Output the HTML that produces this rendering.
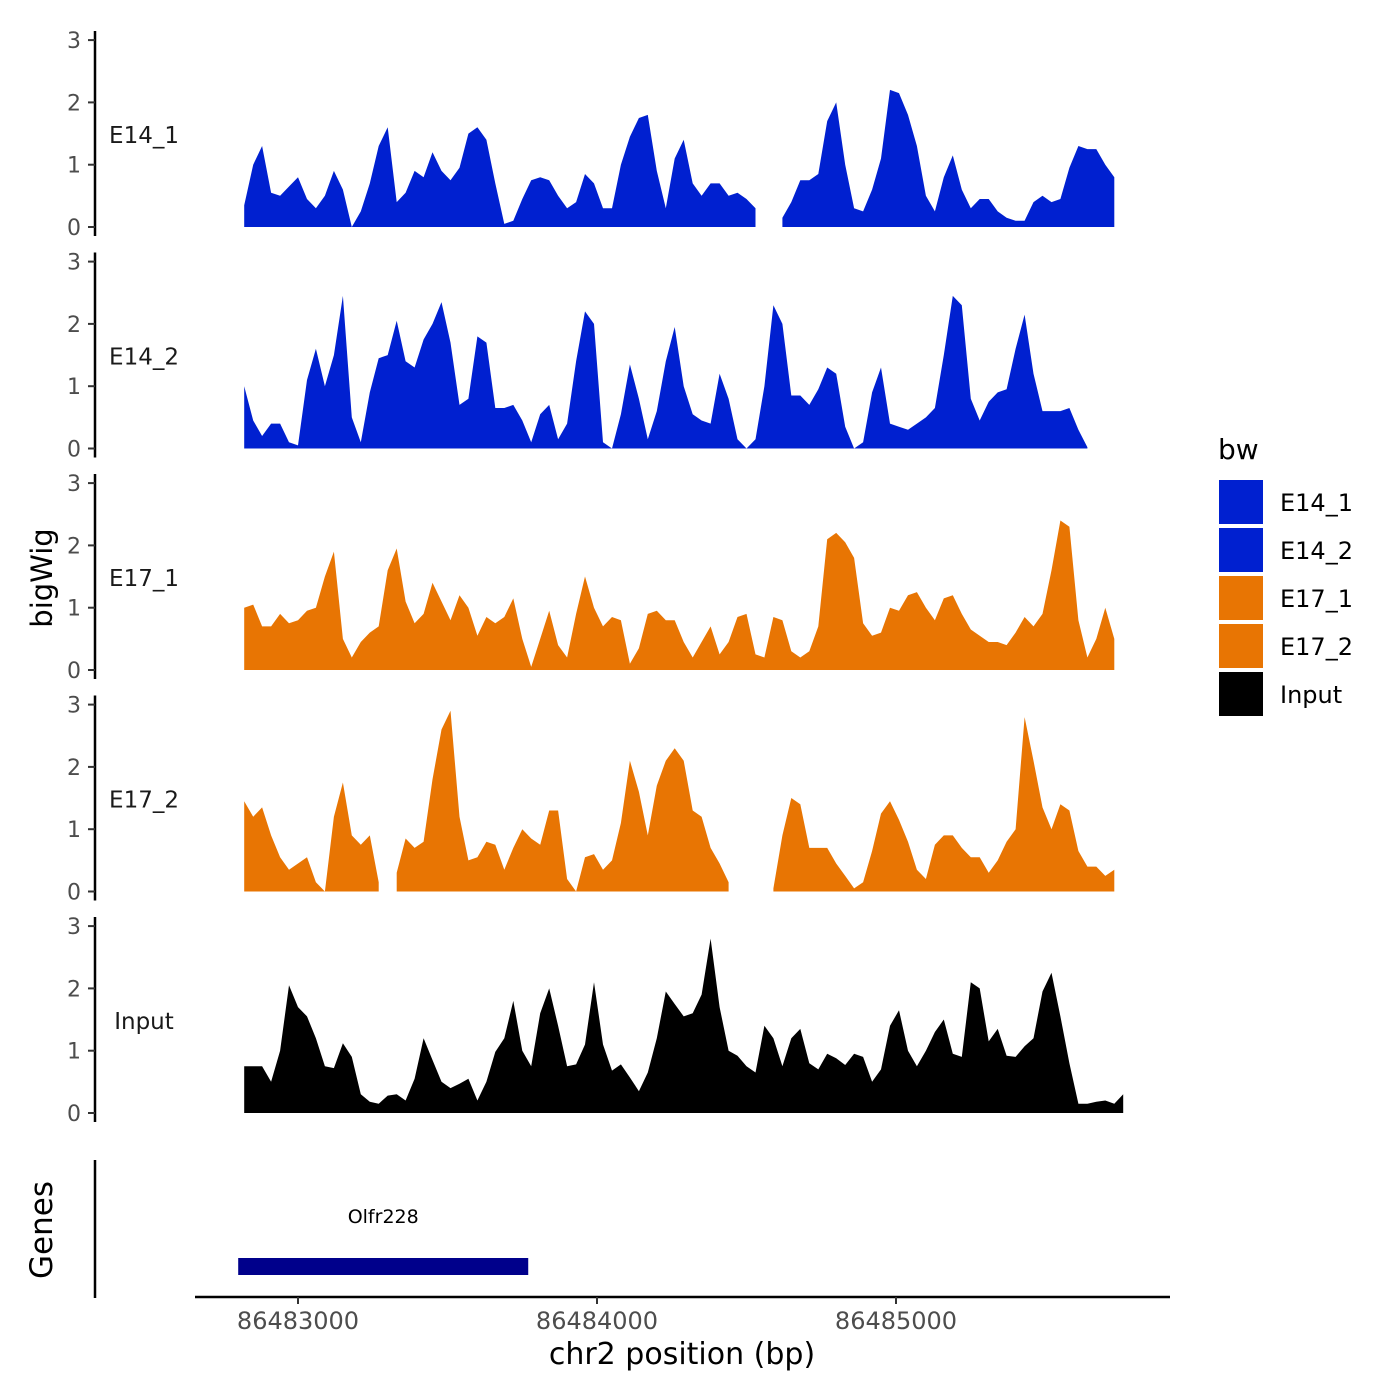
<!DOCTYPE html>
<html><head><meta charset="utf-8"><title>bigWig tracks</title>
<style>
html,body{margin:0;padding:0;background:#fff;}
svg{display:block;font-family:"DejaVu Sans","Liberation Sans",sans-serif;}
</style></head>
<body>
<svg id="chart" width="1400" height="1400" viewBox="0 0 1400 1400" xmlns="http://www.w3.org/2000/svg">
<rect width="1400" height="1400" fill="#fff"/>
</svg>
<script>
const trackNames = ["E14_1","E14_2","E17_1","E17_2","Input"];
const trackColors = ["#0020D0","#0020D0","#E87503","#E87503","#000000"];
const binStart = 86482820;
const binSize = 30;
const yTicks = [0,1,2,3];
const xTicks = [86483000,86484000,86485000];
const xTickLabels = ["86483000","86484000","86485000"];
const geneName = "Olfr228";
const geneStart = 86482800;
const geneEnd = 86483770;

const valsE14_1 = [0.35,1.0,1.3,0.55,0.5,0.65,0.8,0.45,0.3,0.5,0.9,0.6,0.0,0.25,0.7,1.3,1.6,0.4,0.55,0.9,0.8,1.2,0.9,0.75,0.95,1.5,1.6,1.4,0.7,0.05,0.1,0.45,0.75,0.8,0.75,0.5,0.3,0.4,0.85,0.7,0.3,0.3,1.0,1.45,1.75,1.8,0.9,0.3,1.1,1.4,0.7,0.5,0.7,0.7,0.5,0.55,0.45,0.3,null,null,0.15,0.4,0.75,0.75,0.85,1.7,2.0,1.0,0.3,0.25,0.6,1.1,2.2,2.15,1.8,1.3,0.5,0.25,0.8,1.15,0.6,0.3,0.45,0.45,0.25,0.15,0.1,0.1,0.4,0.5,0.4,0.45,0.95,1.3,1.25,1.25,1.0,0.8];
const valsE14_2 = [1.0,0.45,0.2,0.4,0.4,0.1,0.05,1.1,1.6,1.0,1.5,2.45,0.5,0.1,0.9,1.45,1.5,2.05,1.4,1.3,1.75,2.0,2.35,1.7,0.7,0.8,1.8,1.7,0.65,0.65,0.7,0.45,0.1,0.55,0.7,0.15,0.4,1.4,2.2,2.0,0.1,0,0.55,1.35,0.8,0.15,0.6,1.4,1.95,1.0,0.55,0.45,0.4,1.2,0.8,0.15,0,0.15,1.0,2.3,2.0,0.85,0.85,0.7,0.95,1.3,1.2,0.35,0,0.1,0.9,1.3,0.4,0.35,0.3,0.4,0.5,0.65,1.5,2.45,2.3,0.8,0.45,0.75,0.9,0.95,1.6,2.15,1.2,0.6,0.6,0.6,0.65,0.3,0.02,null,null,null];
const valsE17_1 = [1.0,1.05,0.7,0.7,0.9,0.75,0.8,0.95,1.0,1.5,1.9,0.5,0.2,0.45,0.6,0.7,1.6,1.95,1.1,0.75,0.9,1.4,1.1,0.8,1.2,1.0,0.55,0.85,0.75,0.85,1.15,0.5,0.05,0.5,0.95,0.4,0.2,0.9,1.5,1.0,0.7,0.85,0.8,0.1,0.35,0.9,0.95,0.8,0.8,0.45,0.2,0.45,0.7,0.25,0.45,0.85,0.9,0.25,0.2,0.85,0.8,0.3,0.2,0.3,0.7,2.1,2.2,2.05,1.8,0.75,0.55,0.6,1.0,0.95,1.2,1.25,1.0,0.8,1.15,1.2,0.9,0.65,0.55,0.45,0.45,0.4,0.6,0.85,0.7,0.9,1.6,2.4,2.3,0.8,0.2,0.5,1.0,0.5];
const valsE17_2 = [1.45,1.2,1.35,0.9,0.55,0.35,0.45,0.55,0.15,0,1.2,1.75,0.9,0.75,0.9,0.15,null,0.3,0.85,0.7,0.8,1.8,2.6,2.9,1.2,0.5,0.55,0.8,0.75,0.35,0.7,1.0,0.85,0.75,1.3,1.3,0.2,0,0.55,0.6,0.35,0.5,1.1,2.1,1.6,0.9,1.7,2.1,2.3,2.1,1.3,1.2,0.7,0.45,0.15,null,null,null,null,0.05,0.9,1.5,1.4,0.7,0.7,0.7,0.45,0.25,0.05,0.15,0.65,1.25,1.45,1.15,0.8,0.35,0.2,0.75,0.9,0.9,0.7,0.55,0.55,0.3,0.5,0.8,1.0,2.8,2.1,1.35,1.0,1.4,1.3,0.65,0.4,0.4,0.25,0.35];
const valsInput = [0.75,0.75,0.75,0.5,1.0,2.05,1.7,1.55,1.2,0.75,0.72,1.12,0.9,0.3,0.18,0.15,0.28,0.3,0.2,0.55,1.2,0.85,0.5,0.4,0.47,0.55,0.2,0.5,0.98,1.2,1.8,1.0,0.75,1.6,2.0,1.4,0.75,0.78,1.1,2.1,1.1,0.68,0.78,0.57,0.35,0.65,1.2,1.95,1.75,1.55,1.6,1.9,2.8,1.7,1.0,0.92,0.75,0.65,1.4,1.2,0.75,1.2,1.35,0.8,0.7,0.95,0.88,0.77,0.95,0.9,0.5,0.7,1.4,1.65,1.0,0.75,1.0,1.3,1.5,0.95,0.9,2.1,2.0,1.15,1.35,0.92,0.9,1.07,1.2,1.95,2.25,1.55,0.8,0.15,0.15,0.18,0.2,0.15,0.3];
const trackValues = [valsE14_1,valsE14_2,valsE17_1,valsE17_2,valsInput];

const NS="http://www.w3.org/2000/svg";
const svg=document.getElementById('chart');
function mk(tag,attrs,parent){const e=document.createElementNS(NS,tag);for(const k in attrs)e.setAttribute(k,attrs[k]);(parent||svg).appendChild(e);return e;}
function xScale(bp){return 298+(bp-86483000)*0.299;}
const panelStep=221.5, unitPx=62.3;
function y0(i){return 227+i*panelStep;}
function yScale(i,v){return y0(i)-v*unitPx;}

trackValues.forEach((vals,i)=>{
  const g=mk('g',{});
  
  
  let seg=[];
  const segs=[];
  vals.forEach((v,k)=>{
    if(v===null){if(seg.length)segs.push(seg);seg=[];}
    else seg.push([xScale(binStart+k*binSize),yScale(i,v)]);
  });
  if(seg.length)segs.push(seg);
  segs.forEach(s=>{
    let d='M'+s[0][0].toFixed(1)+','+y0(i);
    s.forEach(p=>{d+='L'+p[0].toFixed(1)+','+p[1].toFixed(1);});
    d+='L'+s[s.length-1][0].toFixed(1)+','+y0(i)+'Z';
    const p=mk('path',{d:d,fill:trackColors[i]},g);
    
    
  });
  const ax=mk('line',{x1:95,x2:95,y1:y0(i)-196,y2:y0(i)+9,stroke:'#000','stroke-width':2.5},g);
  
  
  yTicks.forEach(t=>{
    const yy=yScale(i,t);
    const tk=mk('line',{x1:88,x2:95,y1:yy,y2:yy,stroke:'#333','stroke-width':2},g);
    
    
    const tl=mk('text',{x:81,y:yy+8,'text-anchor':'end','font-size':22,fill:'#4d4d4d'},g);
    tl.textContent=t;
    
    
  });
  const lab=mk('text',{x:144,y:y0(i)-84,'text-anchor':'middle','font-size':23,fill:'#1a1a1a'},g);
  lab.textContent=trackNames[i];
  
  
});

const yt=mk('text',{x:0,y:0,transform:'translate(52,578) rotate(-90)','text-anchor':'middle','font-size':29,fill:'#000'});
yt.textContent='bigWig';



const gl=mk('line',{x1:95,x2:95,y1:1160,y2:1298,stroke:'#000','stroke-width':2.5});


const gt=mk('text',{x:0,y:0,transform:'translate(52,1230) rotate(-90)','text-anchor':'middle','font-size':31,fill:'#000'});
gt.textContent='Genes';


const gb=mk('rect',{x:xScale(geneStart),y:1258,width:xScale(geneEnd)-xScale(geneStart),height:17,fill:'#00008B'});


const gn=mk('text',{x:(xScale(geneStart)+xScale(geneEnd))/2,y:1223,'text-anchor':'middle','font-size':19,fill:'#000'});
gn.textContent=geneName;



const xa=mk('line',{x1:195,x2:1170,y1:1297,y2:1297,stroke:'#000','stroke-width':2.5});


xTicks.forEach((t,k)=>{
  const xx=xScale(t);
  const tk=mk('line',{x1:xx,x2:xx,y1:1297,y2:1304,stroke:'#333','stroke-width':2});
  
  
  const tl=mk('text',{x:xx,y:1329,'text-anchor':'middle','font-size':24,fill:'#4d4d4d'});
  tl.textContent=xTickLabels[k];
  
  
});
const xt=mk('text',{x:682,y:1364,'text-anchor':'middle','font-size':30,fill:'#000'});
xt.textContent='chr2 position (bp)';



const lg=mk('g',{});


const lt=mk('text',{x:1218,y:459,'font-size':28,fill:'#000'},lg);
lt.textContent='bw';


trackNames.forEach((n,k)=>{
  const r=mk('rect',{x:1219,y:480+k*48,width:44,height:44,fill:trackColors[k]},lg);
  
  
  const t=mk('text',{x:1280,y:511+k*48,'font-size':24,fill:'#000'},lg);
  t.textContent=n;
  
  
});
</script>
</body></html>
